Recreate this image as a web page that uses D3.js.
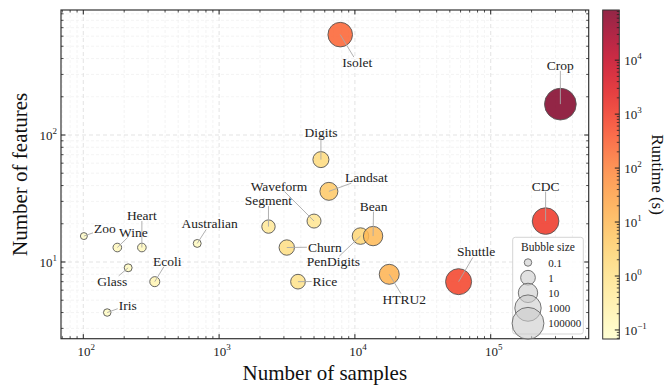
<!DOCTYPE html>
<html><head><meta charset="utf-8">
<script src="https://cdn.jsdelivr.net/npm/d3@7"></script>
<style>
html,body{margin:0;padding:0;background:#fff;}
</style></head>
<body><svg id="chart" width="667" height="385"></svg>
<script>
// ---- data ----
const names    = ["Zoo","Wine","Heart","Australian","Glass","Ecoli","Iris","Segment","Waveform","Churn","PenDigits","Rice","Digits","Landsat","Bean","HTRU2","Isolet","Shuttle","Crop","CDC"];
const samples  = [101,178,270,690,214,336,150,2310,5000,3150,10992,3810,5620,6435,13611,17898,7797,58000,325834,253680];
const features = [16,13,13,14,9,7,4,19,21,13,16,7,64,36,16,8,617,7,175,21];
const runtime  = [0.09,0.13,0.13,0.11,0.11,0.19,0.1,0.59,0.75,1.35,2.3,1.0,1.8,4.7,10,14,270,750,85000,1170];
const sizeLegendValues = [0.1,1,10,1000,100000];
const sizeLegendLabels = ["0.1","1","10","1000","100000"];
const xTickExps = [2,3,4,5];
const yTickExps = [1,2];
const cTickExps = [-1,0,1,2,3,4];
// label placement (pixel offsets of label centre from bubble centre) -- layout only
const labelOffsets = {
  Zoo:[21,-7.5], Wine:[16,-15.5], Heart:[0,-32], Australian:[12.5,-19.5], Glass:[-16,13.5],
  Ecoli:[12.5,-20.5], Iris:[20.5,-7.5], Segment:[0,-26], Waveform:[-35,-35], Churn:[38,-0.5],
  PenDigits:[-27,25.5], Rice:[27,-0.3], Digits:[0,-27.5], Landsat:[37.5,-13.7], Bean:[0.5,-30],
  HTRU2:[15,24.7], Isolet:[17,28], Shuttle:[17.5,-29.7], Crop:[0,-38.7], CDC:[0,-35]
};

// pick an installed serif font
function pickSerif(){
  const cands = ["Liberation Serif","Times New Roman","Tinos","DejaVu Serif","Noto Serif","FreeSerif","Nimbus Roman","Nimbus Roman No9 L","Times"];
  const c = document.createElement("canvas").getContext("2d");
  const s = "Number of samples WwMmIil 0123456789";
  const w = f => { c.font = "40px " + f; return c.measureText(s).width; };
  const wm = w("monospace"), ws = w("sans-serif");
  for(const f of cands){
    if(Math.abs(w(`"${f}", monospace`)-wm)>0.5 || Math.abs(w(`"${f}", sans-serif`)-ws)>0.5) return `"${f}", serif`;
  }
  return "serif";
}
const FONT = pickSerif();

const svg = d3.select("#chart").style("font-family", FONT);
const L=61, R=588.7, T=10, B=338.7;
const x = d3.scaleLog().domain([Math.pow(10,1.8358), Math.pow(10,5.7216)]).range([L,R]);
const y = d3.scaleLog().domain([Math.pow(10,0.396), Math.pow(10,2.9843)]).range([B,T]);
const cmin=0.068, cmax=85000;
const cnorm = d3.scaleLog().domain([cmin,cmax]).range([0,1]).clamp(true);
const color = v => d3.interpolateYlOrRd(cnorm(v));
const rad = v => Math.sqrt(Math.max(4, 54 + 40*Math.log10(v)));
const FILL_OP = 0.85;

function minorVals(scale){
  const d = scale.domain(), out=[];
  for(let e=Math.floor(Math.log10(d[0])); e<=Math.ceil(Math.log10(d[1])); e++){
    for(let k=1;k<10;k++){ const v=k*Math.pow(10,e); if(v>=d[0]&&v<=d[1]) out.push({v,major:k===1}); }
  }
  return out;
}
const xm = minorVals(x), ym = minorVals(y);

// grid
const g = svg.append("g");
g.selectAll(".gxm").data(xm.filter(d=>!d.major)).enter().append("line")
 .attr("x1",d=>x(d.v)).attr("x2",d=>x(d.v)).attr("y1",T).attr("y2",B)
 .attr("stroke","#efefef").attr("stroke-width",0.7).attr("stroke-dasharray","3,2");
g.selectAll(".gym").data(ym.filter(d=>!d.major)).enter().append("line")
 .attr("y1",d=>y(d.v)).attr("y2",d=>y(d.v)).attr("x1",L).attr("x2",R)
 .attr("stroke","#efefef").attr("stroke-width",0.7).attr("stroke-dasharray","3,2");
g.selectAll(".gx").data(xm.filter(d=>d.major)).enter().append("line")
 .attr("x1",d=>x(d.v)).attr("x2",d=>x(d.v)).attr("y1",T).attr("y2",B)
 .attr("stroke","#dcdcdc").attr("stroke-width",0.8).attr("stroke-dasharray","4,3");
g.selectAll(".gy").data(ym.filter(d=>d.major)).enter().append("line")
 .attr("y1",d=>y(d.v)).attr("y2",d=>y(d.v)).attr("x1",L).attr("x2",R)
 .attr("stroke","#dcdcdc").attr("stroke-width",0.8).attr("stroke-dasharray","4,3");

// data points
const pts = names.map((n,i)=>({name:n, sx:samples[i], fy:features[i], rt:runtime[i]}));
pts.forEach(p=>{p.cx=x(p.sx); p.cy=y(p.fy); p.r=rad(p.rt);});

svg.append("g").selectAll("circle").data(pts).enter().append("circle")
 .attr("cx",d=>d.cx).attr("cy",d=>d.cy).attr("r",d=>d.r)
 .attr("fill",d=>color(d.rt)).attr("fill-opacity",FILL_OP)
 .attr("stroke","#555").attr("stroke-width",0.9);

// labels + leader lines
const lineG = svg.append("g"), textG = svg.append("g");
pts.forEach(p=>{
  const off = labelOffsets[p.name];
  const tx = p.cx+off[0], ty = p.cy+off[1];
  const t = textG.append("text").attr("x",tx).attr("y",ty).attr("text-anchor","middle")
    .attr("dominant-baseline","central").style("font-family",FONT).attr("font-size",13.5).attr("fill","#222").text(p.name);
  const bb = t.node().getBBox();
  const pad=1;
  const x0=bb.x-pad, x1=bb.x+bb.width+pad, y0=bb.y+2, y1=bb.y+bb.height-2;
  const dx=tx-p.cx, dy=ty-p.cy;
  let ent=0;
  const cands = [];
  if(dx!==0){ cands.push([(x0-p.cx)/dx,(x1-p.cx)/dx]); }
  if(dy!==0){ cands.push([(y0-p.cy)/dy,(y1-p.cy)/dy]); }
  cands.forEach(c=>{ ent=Math.max(ent, Math.min(c[0],c[1])); });
  ent=Math.min(ent,1);
  lineG.append("line").attr("x1",p.cx).attr("y1",p.cy)
    .attr("x2",p.cx+dx*ent).attr("y2",p.cy+dy*ent)
    .attr("stroke","#a8a8a8").attr("stroke-width",0.9);
});

// frame
svg.append("rect").attr("x",L).attr("y",T).attr("width",R-L).attr("height",B-T)
 .attr("fill","none").attr("stroke","#333").attr("stroke-width",1.2);

// ticks (inward)
const tk = svg.append("g").attr("stroke","#222");
xm.forEach(d=>{ const len=d.major?4.5:2.5;
  tk.append("line").attr("x1",x(d.v)).attr("x2",x(d.v)).attr("y1",B).attr("y2",B-len).attr("stroke-width",d.major?1:0.8);
  tk.append("line").attr("x1",x(d.v)).attr("x2",x(d.v)).attr("y1",T).attr("y2",T+len).attr("stroke-width",d.major?1:0.8);});
ym.forEach(d=>{ const len=d.major?4.5:2.5;
  tk.append("line").attr("y1",y(d.v)).attr("y2",y(d.v)).attr("x1",L).attr("x2",L+len).attr("stroke-width",d.major?1:0.8);
  tk.append("line").attr("y1",y(d.v)).attr("y2",y(d.v)).attr("x1",R).attr("x2",R-len).attr("stroke-width",d.major?1:0.8);});

function powLabel(sel, e){
  sel.append("tspan").text("10");
  sel.append("tspan").attr("font-size",9).attr("dy",-6).text(e<0?"\u2212"+(-e):String(e));
}
xTickExps.forEach(e=>{
  const t=svg.append("text").attr("x",x(Math.pow(10,e))+3).attr("y",B+17).attr("text-anchor","middle")
    .style("font-family",FONT).attr("font-size",13).attr("fill","#222");
  powLabel(t,e);
});
yTickExps.forEach(e=>{
  const t=svg.append("text").attr("x",L-4).attr("y",y(Math.pow(10,e))+5).attr("text-anchor","end")
    .style("font-family",FONT).attr("font-size",13).attr("fill","#222");
  powLabel(t,e);
});

// axis titles
svg.append("text").attr("x",(L+R)/2).attr("y",380).attr("text-anchor","middle")
 .style("font-family",FONT).attr("font-size",21).attr("fill","#111").text("Number of samples");
svg.append("text").attr("transform",`translate(27,${(T+B)/2}) rotate(-90)`).attr("text-anchor","middle")
 .style("font-family",FONT).attr("font-size",21).attr("fill","#111").text("Number of features");

// size legend
const lg = svg.append("g");
lg.append("rect").attr("x",512.7).attr("y",237.3).attr("width",70.6).attr("height",96.7).attr("rx",2.5)
 .attr("fill","#fff").attr("fill-opacity",0.85).attr("stroke","#d0d0d0").attr("stroke-width",0.9);
lg.append("text").attr("x",548).attr("y",251).attr("text-anchor","middle").style("font-family",FONT)
 .attr("font-size",11.5).attr("fill","#222").text("Bubble size");
sizeLegendValues.forEach((v,i)=>{
  const cyy = 262.5 + i*15.2;
  lg.append("circle").attr("cx",528).attr("cy",cyy).attr("r",rad(v))
    .attr("fill","#cccccc").attr("fill-opacity",0.6).attr("stroke","#666").attr("stroke-width",0.9);
  lg.append("text").attr("x",548.3).attr("y",cyy+4).style("font-family",FONT).attr("font-size",11).attr("fill","#222").text(sizeLegendLabels[i]);
});

// colorbar
const CX0=602.7, CX1=619.3, CT=10, CB=339;
const cy = d3.scaleLog().domain([cmin,cmax]).range([CB,CT]);
const defs = svg.append("defs");
const grad = defs.append("linearGradient").attr("id","cg").attr("x1",0).attr("x2",0).attr("y1",1).attr("y2",0);
d3.range(0,1.0001,0.05).forEach(s=>grad.append("stop").attr("offset",s).attr("stop-color",d3.interpolateYlOrRd(s)));
svg.append("rect").attr("x",CX0).attr("y",CT).attr("width",CX1-CX0).attr("height",CB-CT)
 .attr("fill","url(#cg)").attr("fill-opacity",FILL_OP);
svg.append("rect").attr("x",CX0).attr("y",CT).attr("width",CX1-CX0).attr("height",CB-CT)
 .attr("fill","none").attr("stroke","#333").attr("stroke-width",1);
const cm = [];
for(let e=-2;e<=5;e++) for(let k=1;k<10;k++){ const v=k*Math.pow(10,e); if(v>=cmin&&v<=cmax) cm.push({v,major:k===1}); }
cm.forEach(d=>{
  svg.append("line").attr("x1",CX1).attr("x2",CX1-(d.major?4.5:2.5)).attr("y1",cy(d.v)).attr("y2",cy(d.v))
   .attr("stroke","#222").attr("stroke-width",d.major?1:0.8);
});
cTickExps.forEach(e=>{
  const t=svg.append("text").attr("x",CX1+5).attr("y",cy(Math.pow(10,e))+5).style("font-family",FONT).attr("font-size",13).attr("fill","#222");
  powLabel(t,e);
});
svg.append("text").attr("transform",`translate(652,${(CT+CB)/2}) rotate(90)`).attr("text-anchor","middle")
 .style("font-family",FONT).attr("font-size",17).attr("fill","#111").text("Runtime (s)");
</script></body></html>
